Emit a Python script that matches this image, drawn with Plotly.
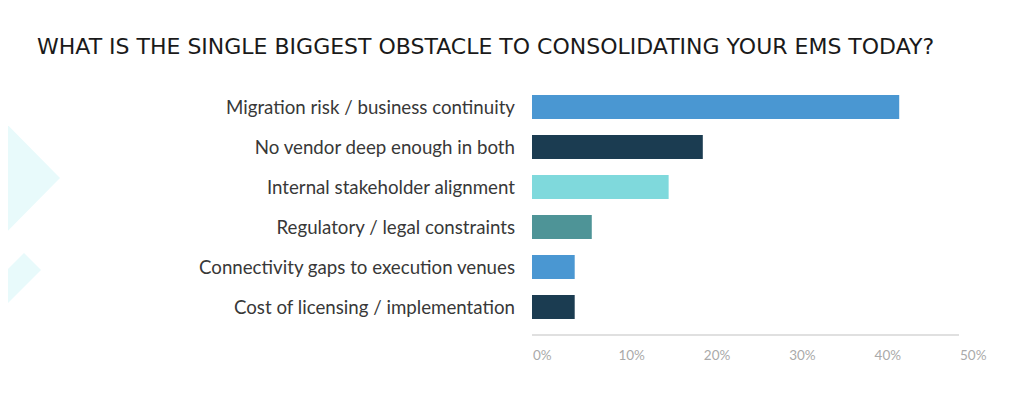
import plotly.graph_objects as go

# survey answers, top to bottom
categories = [
    "Migration risk / business continuity",
    "No vendor deep enough in both",
    "Internal stakeholder alignment",
    "Regulatory / legal constraints",
    "Connectivity gaps to execution venues",
    "Cost of licensing / implementation",
]
shares = [43, 20, 16, 7, 5, 5]
bar_colors = ["#4a97d2", "#1b3c51", "#7fd9dc", "#4e9497", "#4a97d2", "#1b3c51"]
tick_vals = [0, 10, 20, 30, 40, 50]
tick_text = ["0%", "10%", "20%", "30%", "40%", "50%"]

# the page body has an 8px margin, so the figure starts at (8, 8)
OFF = 8
W, H = 1024 - OFF, 401 - OFF
L, R, T, B = 532 - OFF, 65, 87 - OFF, 67


def paper(px, py):
    # screen pixel position -> paper coordinates
    px, py = px - OFF, py - OFF
    return (px - L) / (W - L - R), 1 - (py - T) / (H - T - B)


def poly(points):
    pts = [paper(x, y) for x, y in points]
    return "M " + " L ".join(f"{x:.4f},{y:.4f}" for x, y in pts) + " Z"


fig = go.Figure(go.Bar(
    x=shares,
    y=categories,
    orientation="h",
    marker=dict(color=bar_colors, line=dict(width=0)),
    hoverinfo="x+y",
))

# faint decorative shapes on the left edge
bg = "#e8fafb"
fig.add_shape(type="path", xref="paper", yref="paper", layer="below",
              path=poly([(-10, 107), (60, 178), (-10, 249)]),
              fillcolor=bg, line=dict(width=0))
fig.add_shape(type="path", xref="paper", yref="paper", layer="below",
              path=poly([(-10, 287), (24, 253), (41, 270), (-10, 321)]),
              fillcolor=bg, line=dict(width=0))

fig.update_layout(
    width=W, height=H,
    margin=dict(l=L, r=R, t=T, b=B),
    paper_bgcolor="white",
    plot_bgcolor="rgba(0,0,0,0)",
    bargap=0.4,
    showlegend=False,
    title=dict(
        text="WHAT IS THE SINGLE BIGGEST OBSTACLE TO CONSOLIDATING YOUR EMS TODAY?",
        xref="container", yref="container",
        x=(37 - OFF) / W, xanchor="left",
        y=1 - (46 - OFF) / H, yanchor="middle",
        font=dict(family="DejaVu Sans", size=22, color="#1a1a1a"),
    ),
    xaxis=dict(
        range=[0, 50],
        tickvals=tick_vals,
        ticktext=tick_text,
        ticklabelposition="outside right",
        ticklabelstandoff=8,
        showgrid=False,
        zeroline=False,
        showline=True,
        linecolor="#e0e0e0",
        linewidth=2,
        ticks="",
        tickfont=dict(family="Lato", size=13.5, color="#aaaaaa"),
        fixedrange=True,
    ),
    yaxis=dict(
        range=[5.675, -0.5],
        showgrid=False,
        zeroline=False,
        showline=False,
        ticks="",
        ticklabelstandoff=16,
        tickfont=dict(family="Lato", size=18.7, color="#383838"),
        fixedrange=True,
    ),
)

fig.write_html("out.html")
